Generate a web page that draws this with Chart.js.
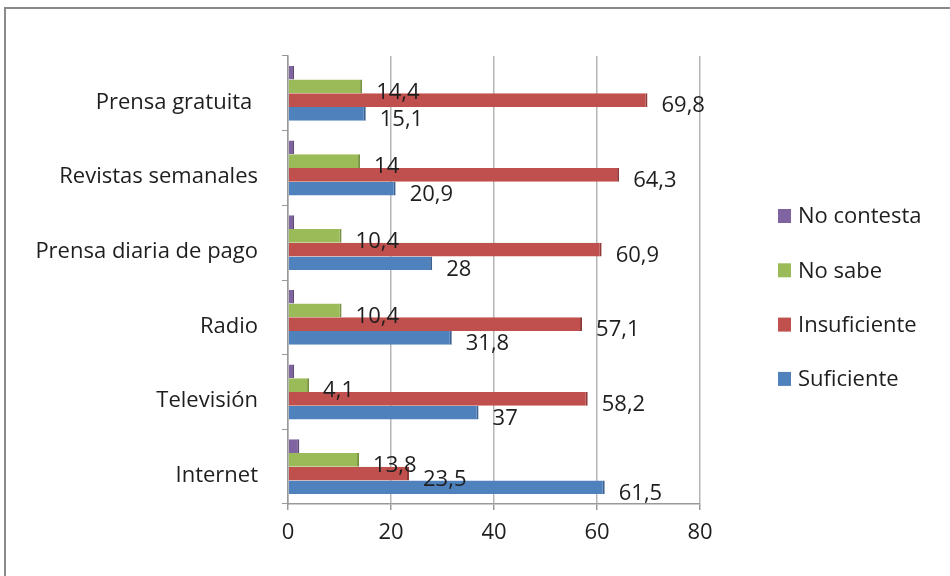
<!DOCTYPE html>
<html>
<head>
<meta charset="utf-8">
<script src="https://cdn.jsdelivr.net/npm/chart.js@4"></script>
<style>
html,body{margin:0;padding:0;background:#fff;}
#wrap{width:950px;height:576px;position:relative;}
</style>
</head>
<body>
<div id="wrap"><canvas id="c" width="950" height="576"></canvas></div>
<script>
const categories = ["Prensa gratuita ", "Revistas semanales", "Prensa diaria de pago", "Radio", "Televisión", "Internet"];
const seriesNames = ["No contesta", "No sabe", "Insuficiente", "Suficiente"];
const noContesta = [1.2, 1.2, 1.2, 1.2, 1.2, 2.2];
const noSabe = [14.4, 14, 10.4, 10.4, 4.1, 13.8];
const insuficiente = [69.8, 64.3, 60.9, 57.1, 58.2, 23.5];
const suficiente = [15.1, 20.9, 28, 31.8, 37, 61.5];
const xTicks = [0, 20, 40, 60, 80];

const fills = ["#8064A2", "#9BBB59", "#C0504D", "#4F81BD"];
const edges = ["#5f4a7a", "#76913f", "#8f3a38", "#3a6190"];
const showLabel = [false, true, true, true];
const FONT = "'Open Sans', sans-serif";
const TXT = '#1e1e1e';

const bgPlugin = {
  id: 'bg',
  beforeDraw(chart) {
    const ctx = chart.ctx;
    ctx.save();
    ctx.fillStyle = '#fff';
    ctx.fillRect(0, 0, chart.width, chart.height);
    ctx.strokeStyle = '#8a8a8a';
    ctx.lineWidth = 2;
    ctx.beginPath();
    ctx.moveTo(5, 576);
    ctx.lineTo(5, 8);
    ctx.lineTo(950, 8);
    ctx.stroke();
    ctx.restore();
  }
};

const labelPlugin = {
  id: 'vals',
  afterDatasetsDraw(chart) {
    const ctx = chart.ctx;
    ctx.save();
    ctx.font = "22px " + FONT;
    ctx.fillStyle = TXT;
    ctx.textAlign = 'left';
    ctx.textBaseline = 'middle';
    chart.data.datasets.forEach((ds, i) => {
      if (!showLabel[i]) return;
      const meta = chart.getDatasetMeta(i);
      meta.data.forEach((bar, j) => {
        const v = ds.data[j];
        const txt = String(v).replace('.', ',');
        ctx.fillText(txt, bar.x + 14, bar.y + 6);
      });
    });
    // legend
    ctx.font = "22px " + FONT;
    seriesNames.forEach((name, k) => {
      const y = 216 + k * 54.3;
      ctx.fillStyle = fills[k];
      ctx.fillRect(778, y - 7, 13, 14);
      ctx.fillStyle = TXT;
      ctx.fillText(name, 798, y + 1);
    });
    ctx.restore();
  }
};

const datasets = [noContesta, noSabe, insuficiente, suficiente].map((d, i) => ({
  label: seriesNames[i],
  data: d,
  backgroundColor: fills[i],
  borderColor: edges[i],
  borderWidth: {top: 0, bottom: 0, left: 0, right: 2},
  borderSkipped: false,
  barPercentage: 1.0,
  categoryPercentage: 0.735
}));

new Chart(document.getElementById('c'), {
  type: 'bar',
  data: { labels: categories, datasets },
  options: {
    indexAxis: 'y',
    responsive: false,
    animation: false,
    layout: { padding: { top: 56, right: 250, bottom: 0, left: 0 } },
    plugins: { legend: { display: false }, tooltip: { enabled: false } },
    scales: {
      x: {
        min: 0, max: 80,
        afterBuildTicks(scale) { scale.ticks = xTicks.map(v => ({ value: v })); },
        afterFit(scale) { scale.height = 72; },
        grid: { color: '#b5b5b5', lineWidth: 1.5, drawTicks: true, tickLength: 6, tickColor: '#999' },
        border: { color: '#999', width: 1.5 },
        ticks: { font: { family: FONT, size: 22 }, color: TXT, padding: 10 }
      },
      y: {
        afterFit(scale) { scale.width = 288; },
        grid: { display: true, drawOnChartArea: false, tickLength: 6, tickColor: '#999' },
        border: { color: '#999', width: 1.5 },
        ticks: { font: { family: FONT, size: 22 }, color: TXT, padding: 24, labelOffset: 9 }
      }
    }
  },
  plugins: [bgPlugin, labelPlugin]
});
</script>
</body>
</html>
